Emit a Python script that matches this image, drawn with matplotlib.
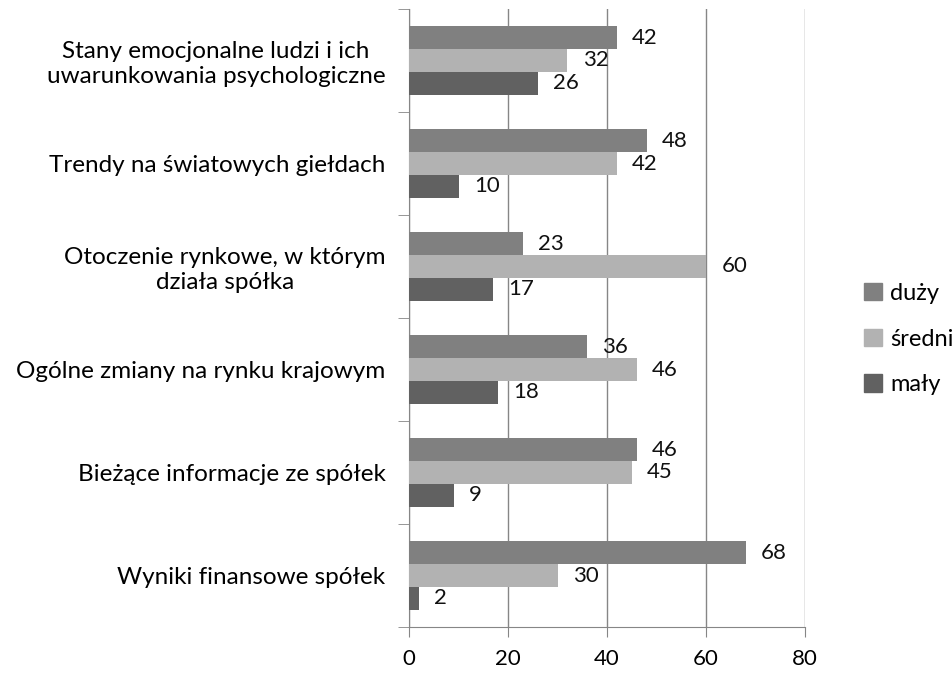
import matplotlib
matplotlib.use("Agg")
import matplotlib.pyplot as plt
import numpy as np
from matplotlib.patches import Patch

categories = [
    "Wyniki finansowe spółek",
    "Bieżące informacje ze spółek",
    "Ogólne zmiany na rynku krajowym",
    "Otoczenie rynkowe, w którym\ndziała spółka",
    "Trendy na światowych giełdach",
    "Stany emocjonalne ludzi i ich\nuwarunkowania psychologiczne",
]
duzy = [68, 46, 36, 23, 48, 42]
sredni = [30, 45, 46, 60, 42, 32]
maly = [2, 9, 18, 17, 10, 26]
series_names = ["duży", "średni", "mały"]
colors = ["#808080", "#b2b2b2", "#616161"]
xticks = [0, 20, 40, 60, 80]

plt.rcParams['font.family'] = ['Lato', 'DejaVu Sans']

fig = plt.figure(figsize=(9.52, 6.73), dpi=100)
ax = fig.add_axes([409/952, 1-627/673, (805-409)/952, (627-9)/673])

y = np.arange(len(categories))
h = 0.223
offsets = [h, 0, -h]
for vals, off, col in zip([duzy, sredni, maly], offsets, colors):
    bars = ax.barh(y + off, vals, height=h, color=col, zorder=3)
    for b, v in zip(bars, vals):
        ax.annotate(str(v), (b.get_width(), b.get_y() + b.get_height()/2),
                    xytext=(11, 0), textcoords="offset points",
                    ha="left", va="center", fontsize=16, color="#111111")

ax.set_xlim(0, 80)
ax.set_ylim(-0.5, len(categories) - 0.5)
ax.set_xticks(xticks)
ax.set_xticklabels([str(t) for t in xticks], fontsize=16)
ax.set_yticks(y)
ax.set_yticklabels(categories, fontsize=17.5, ha="right", multialignment="center")
ax.tick_params(axis="y", length=0, pad=17)
ax.set_yticks(np.arange(-0.5, len(categories), 1), minor=True)
ax.tick_params(axis="y", which="minor", length=8, color="#868686", direction="out")
ax.tick_params(axis="x", length=7, color="#868686", direction="out", pad=9)
ax.xaxis.grid(True, color="#868686", linewidth=1, zorder=0)
for s in ["top", "right"]:
    ax.spines[s].set_visible(False)
for s in ["left", "bottom"]:
    ax.spines[s].set_color("#868686")

handles = [Patch(color=c, label=n) for c, n in zip(colors, series_names)]
fig.legend(handles=handles, loc="center left", bbox_to_anchor=(843/952, 1-339/673),
           frameon=False, fontsize=17, handlelength=0.75, handleheight=0.75,
           handletextpad=0.35, labelspacing=1.05)

fig.savefig("out.png", dpi=100)
